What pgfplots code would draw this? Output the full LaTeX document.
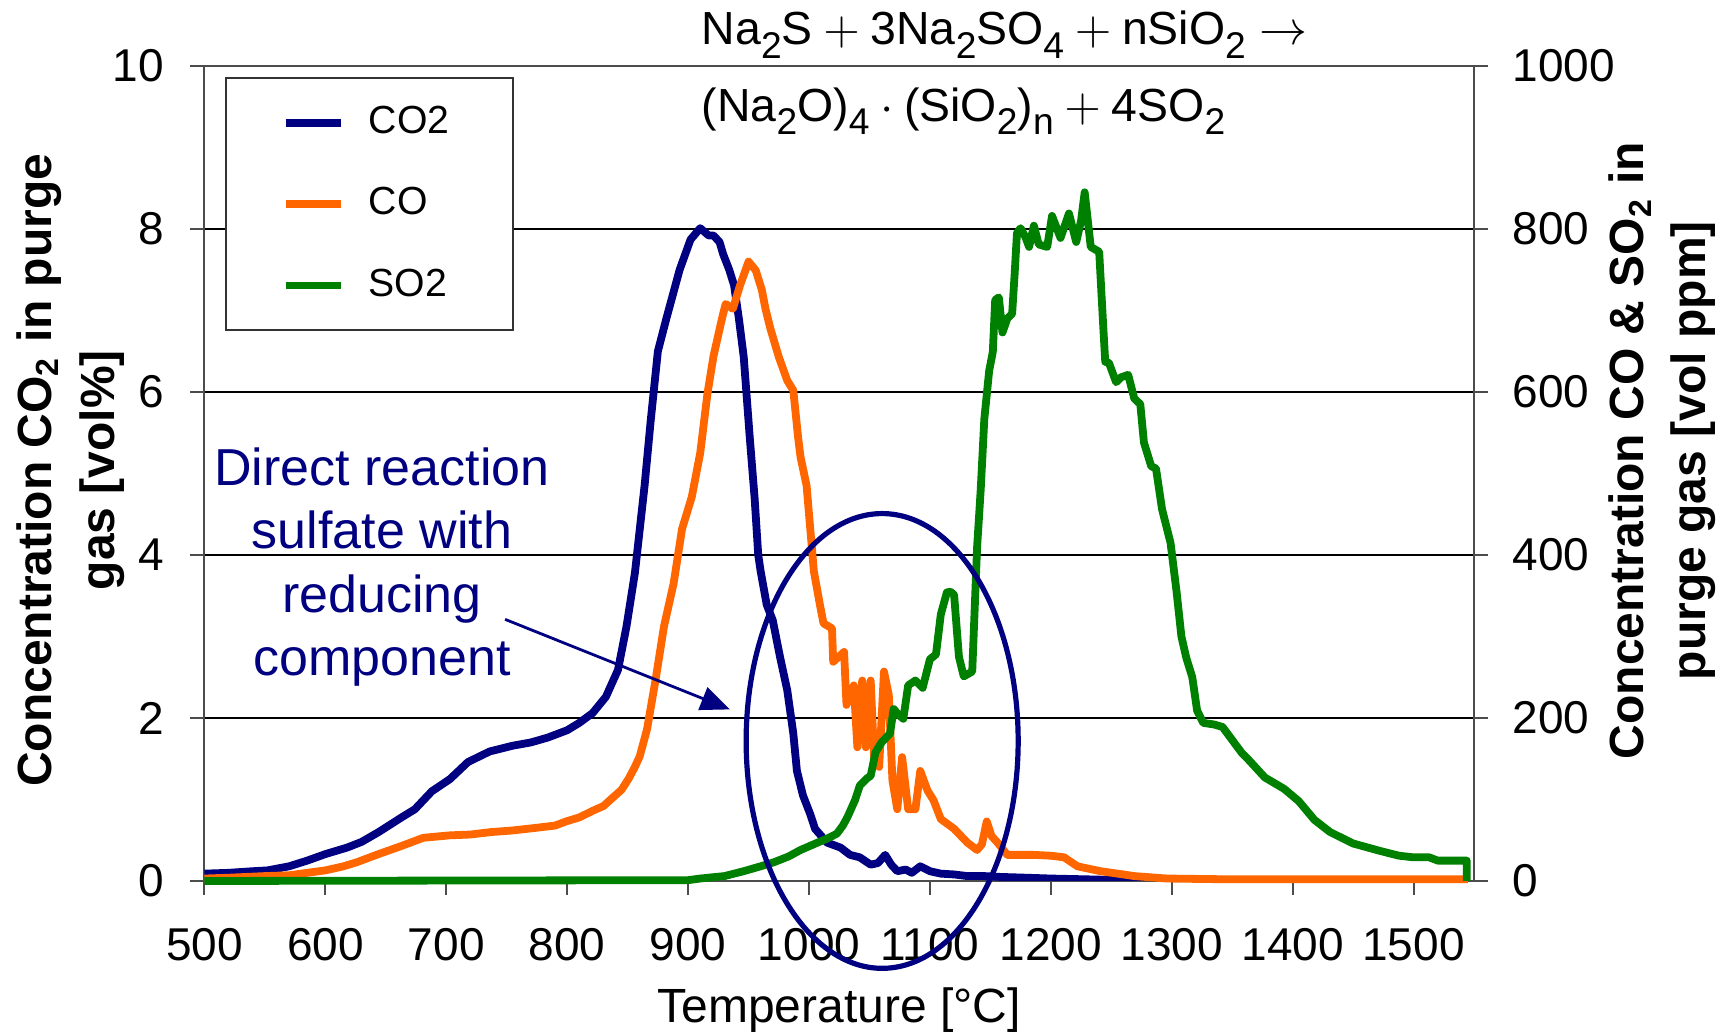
\documentclass[border=0pt]{standalone}
\usepackage{fontspec}
\setmainfont{Liberation Sans}
\usepackage{pgfplots}
\pgfplotsset{compat=1.18}
\usetikzlibrary{arrows.meta}
\definecolor{cnavy}{RGB}{0,0,128}
\definecolor{corange}{RGB}{255,102,0}
\definecolor{cgreen}{RGB}{0,128,0}
\newcommand\sub[1]{\raisebox{-3.3pt}{\fontsize{9.3}{9.3}\selectfont #1}}
\begin{document}
\begin{tikzpicture}
\pgfplotsset{
  common/.style={
    scale only axis, width=317.375pt, height=203.75pt,
    xmin=500, xmax=1550,
    tick align=outside, major tick length=3.5pt,
    tick label style={font=\fontsize{11.5}{13}\selectfont},
    /pgf/number format/assume math mode=true,
    /pgf/number format/1000 sep={},
    axis line style={black!70, line width=0.5pt},
    tick style={black!70, line width=0.5pt},
  }
}
\begin{axis}[common, name=main,
  ymin=0, ymax=10, ytick={0,2,...,10},
  xtick={500,600,...,1500},
  tick pos=left,
  ymajorgrids, major grid style={black, line width=0.35pt},
  xticklabel style={anchor=north, inner sep=0pt, yshift=-8.25pt},
  yticklabel style={anchor=east, inner sep=0pt, xshift=-6.4pt},
  xlabel={Temperature [°C]},
  xlabel style={at={(axis description cs:0.5,0)}, anchor=base, yshift=-35.5pt, inner sep=0pt, font=\fontsize{12}{14}\selectfont},
  ylabel={Concentration CO\textsubscript{2} in purge\\gas [vol\%]},
  ylabel style={at={(axis description cs:-0.10516,0.504)}, anchor=center, align=center, inner sep=0pt, font=\bfseries\fontsize{12}{15.75}\selectfont},
]
\addplot[cnavy, line width=1.95pt, line join=round] coordinates {
(500,0.09) (520,0.10) (540,0.12) (552,0.13) (570,0.18) (585,0.25) (600,0.33)
(618,0.41) (630,0.48) (644,0.60) (663,0.78) (674,0.88) (688,1.10) (703,1.25)
(718,1.46) (736,1.59) (755,1.66) (770,1.70) (784,1.76) (800,1.85) (810,1.94)
(821,2.06) (832,2.26) (842,2.59) (849,3.12) (856,3.78) (864,4.85) (869,5.64)
(875,6.50) (882,6.90) (893,7.50) (902,7.87) (910,8.01) (917,7.92) (921,7.92)
(926,7.84) (929,7.69) (934,7.50) (938,7.31) (942,6.90) (946,6.43) (951,5.44)
(955,4.70) (958,4.00) (960,3.80) (965,3.39) (970,3.20) (976,2.75) (982,2.34)
(987,1.81) (990,1.35) (995,1.05) (1001,0.82) (1005,0.64) (1015,0.47) (1026,0.41)
(1034,0.32) (1042,0.29) (1051,0.20) (1057,0.22) (1063,0.32) (1068,0.20) (1073,0.12)
(1080,0.14) (1085,0.10) (1092,0.18) (1100,0.12) (1109,0.09) (1120,0.08) (1131,0.06)
(1145,0.06) (1158,0.05) (1180,0.04) (1200,0.03) (1230,0.02) (1260,0.01) (1300,0.00)
(1545,0.00)
};
\end{axis}
\begin{axis}[common, axis x line=none, axis y line*=right,
  ymin=0, ymax=1000, ytick={0,200,...,1000},
  clip=false,
  yticklabel style={anchor=west, inner sep=0pt, xshift=6pt},
  ylabel={Concentration CO \& SO\textsubscript{2} in\\purge gas [vol ppm]},
  ylabel style={at={(axis description cs:1.1485,0.528)}, anchor=center, align=center, inner sep=0pt, font=\bfseries\fontsize{12}{15.5}\selectfont},
  legend cell align=left,
  legend image code/.code={\draw[#1] (0pt,0pt) -- (13.8pt,0pt);},
  legend style={at={(0.016,0.9865)}, anchor=north west, draw=black!80, line width=0.5pt, fill=white,
    font=\fontsize{9.8}{11}\selectfont, inner xsep=14pt, inner ysep=5pt, row sep=8pt,
    /tikz/every odd column/.append style={column sep=4pt}},
]
\addlegendimage{cnavy, line width=1.95pt}
\addlegendentry{CO2}
\addplot[corange, line width=1.95pt, line join=round] coordinates {
(500,3) (520,4) (550,6) (570,7) (585,10) (600,13) (615,18) (626,23) (644,33)
(663,43) (681,53) (703,56) (720,57) (737,60) (755,62) (773,65) (790,68) (799,73)
(810,78) (821,86) (830,92) (836,100) (845,112) (851,126) (856,140) (860,153)
(866,186) (873,246) (880,312) (888,365) (895,432) (903,471) (910,525) (916,598)
(921,644) (928,690) (931,708) (937,702) (943,731) (950,760) (956,749) (961,725)
(964,702) (968,678) (975,643) (982,614) (987,602) (991,544) (993,520) (998,485)
(1004,380) (1009,339) (1012,316) (1019,310) (1020,269) (1029,281) (1031,216)
(1037,240) (1040,164) (1044,246) (1047,164) (1051,246) (1054,146) (1058,140)
(1062,257) (1066,228) (1069,123) (1073,88) (1077,152) (1082,88) (1088,88)
(1092,135) (1098,111) (1103,99) (1109,76) (1120,64) (1131,47) (1139,38) (1143,45)
(1147,73) (1151,55) (1156,47) (1164,32) (1186,32) (1200,31) (1211,29) (1222,18)
(1241,12) (1260,8) (1269,6) (1296,3) (1350,2) (1400,2) (1450,2) (1500,2) (1545,2)
};
\addlegendentry{CO}
\addplot[cgreen, line width=1.95pt, line join=round] coordinates {
(500,0) (900,1) (910,3) (930,6) (946,12) (960,18) (971,23) (983,30) (993,38)
(1007,47) (1015,52) (1023,58) (1028,68) (1032,79) (1038,99) (1042,117) (1048,126)
(1051,129) (1055,158) (1060,170) (1067,181) (1070,211) (1074,204) (1078,199)
(1082,240) (1088,246) (1094,237) (1100,272) (1105,278) (1109,327) (1114,354)
(1117,355) (1120,351) (1124,275) (1128,251) (1135,257) (1139,409) (1142,480)
(1145,567) (1149,626) (1152,649) (1154,713) (1157,716) (1160,673) (1164,690)
(1168,696) (1170,743) (1172,795) (1175,801) (1179,790) (1182,778) (1186,804)
(1190,781) (1197,778) (1201,816) (1208,789) (1215,819) (1221,784) (1225,810)
(1228,845) (1233,778) (1240,772) (1243,690) (1245,637) (1248,636) (1254,612)
(1258,618) (1264,621) (1269,592) (1274,585) (1277,538) (1283,509) (1287,506)
(1292,456) (1299,415) (1304,355) (1308,300) (1312,274) (1317,250) (1321,209)
(1326,194) (1335,192) (1342,189) (1348,177) (1358,157) (1364,148) (1377,127)
(1393,113) (1405,98) (1418,75) (1431,60) (1450,46) (1472,37) (1488,31) (1500,29)
(1513,29) (1520,25) (1544,25) (1544,0)
};
\addlegendentry{SO2}
\draw[cnavy, line width=1.3pt] (axis cs:1060.5,171.8) ellipse [x radius=112.5, y radius=279];
\draw[cnavy, line width=0.7pt, -{Triangle[length=7.3pt,width=6pt]}] (axis cs:748.6,321) -- (axis cs:934.6,210.5);
\node[align=center, text=cnavy, font=\fontsize{13}{15.8}\selectfont, inner sep=0pt, anchor=center] at (axis cs:646.8,385.3) {Direct reaction\\sulfate with\\reducing\\component};
\node[anchor=base west, inner sep=0pt, font=\fontsize{11.6}{13}\selectfont] at (axis description cs:0.3911,1.0258)
  {Na\sub{2}S${}+{}$3Na\sub{2}SO\sub{4}${}+{}$nSiO\sub{2}${}\rightarrow{}$};
\node[anchor=base west, inner sep=0pt, font=\fontsize{11.6}{13}\selectfont] at (axis description cs:0.3911,0.9317)
  {(Na\sub{2}O)\sub{4}${}\cdot{}$(SiO\sub{2})\sub{n}${}+{}$4SO\sub{2}};
\end{axis}
\pgfresetboundingbox
\path[use as bounding box] ([shift={(-51.125pt,-38.25pt)}]main.south west) rectangle ([shift={(63.5pt,16.5pt)}]main.north east);
\end{tikzpicture}
\end{document}
